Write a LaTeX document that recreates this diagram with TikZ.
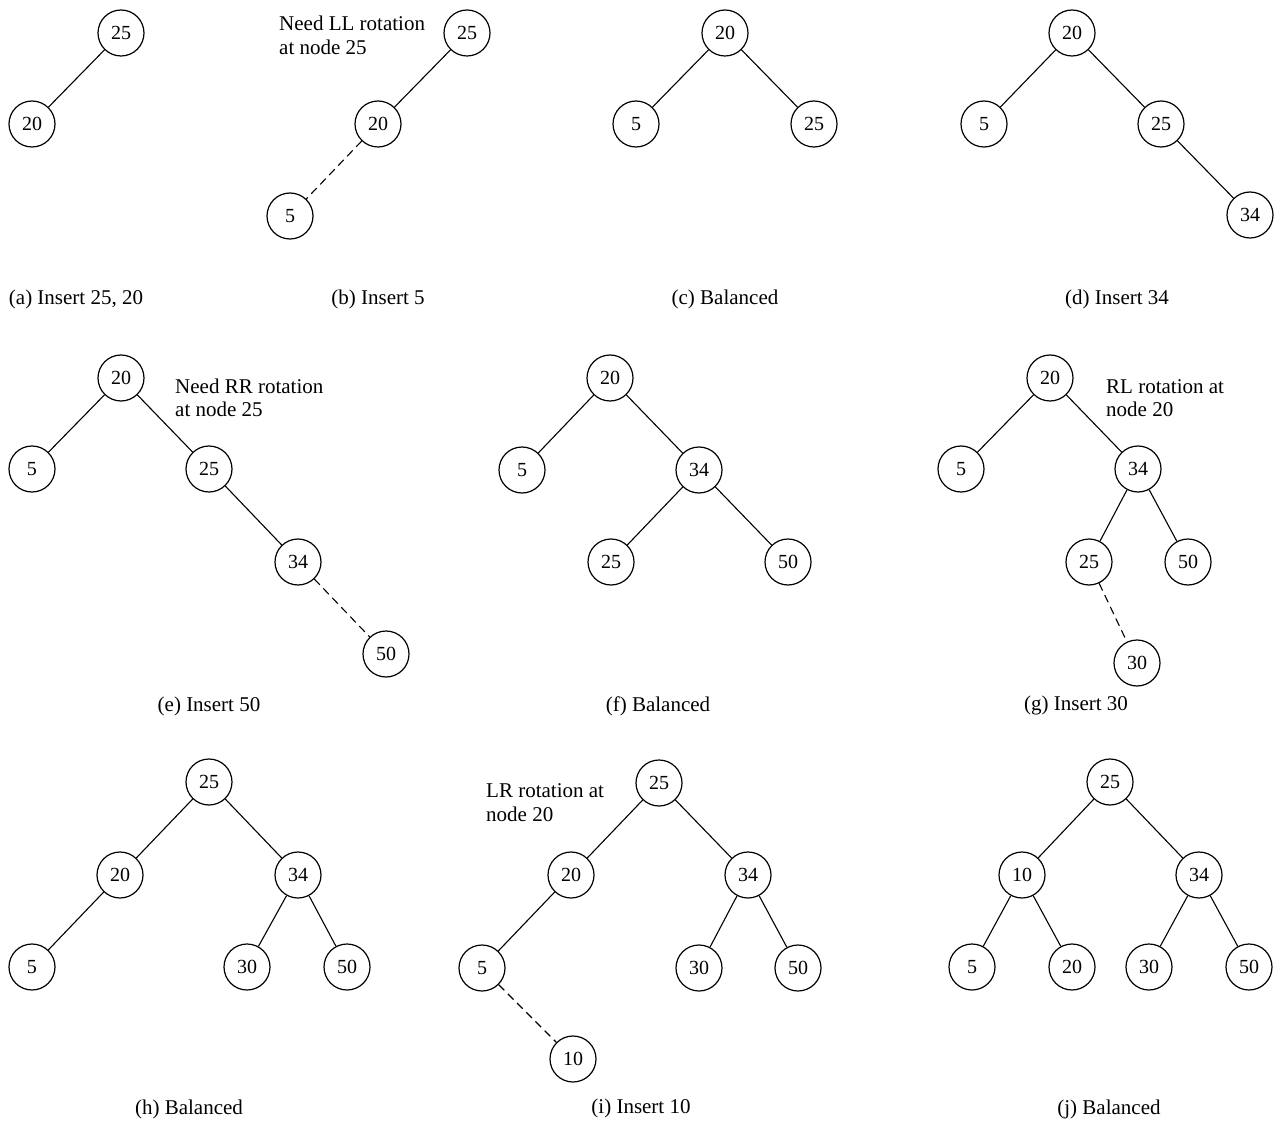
\documentclass[tikz,border=0pt]{standalone}
\usepackage{fontspec}
\setmainfont{Liberation Serif}
\begin{document}
\begin{tikzpicture}[x=1pt,y=-1pt,
  tn/.style={circle,draw,line width=1.2pt,minimum size=46pt,inner sep=0pt,font=\fontsize{20}{24}\selectfont},
  ed/.style={line width=1.1pt},
  dd/.style={line width=1.1pt,dash pattern=on 8pt off 5pt},
  captxt/.style={anchor=base,inner sep=0pt,font=\fontsize{21}{25}\selectfont},
  notetxt/.style={anchor=base west,inner sep=0pt,font=\fontsize{21}{25}\selectfont}]
\useasboundingbox (0,0) rectangle (1275,1123);
% (a)
\node[tn] (a25) at (121,33) {25};
\node[tn] (a20) at (32,124) {20};
\draw[ed] (a25) -- (a20);
\node[captxt] (acap) at (76,305) {(a) Insert 25, 20};
% (b)
\node[tn] (b25) at (467,33) {25};
\node[tn] (b20) at (378,124) {20};
\node[tn] (b5) at (290,216) {5};
\draw[ed] (b25) -- (b20);
\draw[dd] (b20) -- (b5);
\node[notetxt] (bn1) at (279,31) {Need LL rotation};
\node[notetxt] (bn2) at (279,55) {at node 25};
\node[captxt] (bcap) at (378,305) {(b) Insert 5};
% (c)
\node[tn] (c20) at (725,33) {20};
\node[tn] (c5) at (636,124) {5};
\node[tn] (c25) at (814,124) {25};
\draw[ed] (c20) -- (c5);
\draw[ed] (c20) -- (c25);
\node[captxt] (ccap) at (725,305) {(c) Balanced};
% (d)
\node[tn] (d20) at (1072,33) {20};
\node[tn] (d5) at (984,124) {5};
\node[tn] (d25) at (1161,124) {25};
\node[tn] (d34) at (1250,215) {34};
\draw[ed] (d20) -- (d5);
\draw[ed] (d20) -- (d25);
\draw[ed] (d25) -- (d34);
\node[captxt] (dcap) at (1117,305) {(d) Insert 34};
% (e)
\node[tn] (e20) at (121,378) {20};
\node[tn] (e5) at (32,469) {5};
\node[tn] (e25) at (209,469) {25};
\node[tn] (e34) at (298,562) {34};
\node[tn] (e50) at (386,654) {50};
\draw[ed] (e20) -- (e5);
\draw[ed] (e20) -- (e25);
\draw[ed] (e25) -- (e34);
\draw[dd] (e34) -- (e50);
\node[notetxt] (en1) at (175,393) {Need RR rotation};
\node[notetxt] (en2) at (175,417) {at node 25};
\node[captxt] (ecap) at (209,711) {(e) Insert 50};
% (f)
\node[tn] (f20) at (610,378) {20};
\node[tn] (f5) at (522,470) {5};
\node[tn] (f34) at (699,470) {34};
\node[tn] (f25) at (611,562) {25};
\node[tn] (f50) at (788,562) {50};
\draw[ed] (f20) -- (f5);
\draw[ed] (f20) -- (f34);
\draw[ed] (f34) -- (f25);
\draw[ed] (f34) -- (f50);
\node[captxt] (fcap) at (658,711) {(f) Balanced};
% (g)
\node[tn] (g20) at (1050,378) {20};
\node[tn] (g5) at (961,469) {5};
\node[tn] (g34) at (1138,469) {34};
\node[tn] (g25) at (1089,562) {25};
\node[tn] (g50) at (1188,562) {50};
\node[tn] (g30) at (1137,663) {30};
\draw[ed] (g20) -- (g5);
\draw[ed] (g20) -- (g34);
\draw[ed] (g34) -- (g25);
\draw[ed] (g34) -- (g50);
\draw[dd] (g25) -- (g30);
\node[notetxt] (gn1) at (1106,393) {RL rotation at};
\node[notetxt] (gn2) at (1106,417) {node 20};
\node[captxt] (gcap) at (1076,710) {(g) Insert 30};
% (h)
\node[tn] (h25) at (209,782) {25};
\node[tn] (h20) at (120,875) {20};
\node[tn] (h34) at (298,875) {34};
\node[tn] (h5) at (32,967) {5};
\node[tn] (h30) at (247,967) {30};
\node[tn] (h50) at (347,967) {50};
\draw[ed] (h25) -- (h20);
\draw[ed] (h25) -- (h34);
\draw[ed] (h20) -- (h5);
\draw[ed] (h34) -- (h30);
\draw[ed] (h34) -- (h50);
\node[captxt] (hcap) at (189,1114) {(h) Balanced};
% (i)
\node[tn] (i25) at (659,783) {25};
\node[tn] (i20) at (571,875) {20};
\node[tn] (i34) at (748,875) {34};
\node[tn] (i5) at (482,968) {5};
\node[tn] (i30) at (699,968) {30};
\node[tn] (i50) at (798,968) {50};
\node[tn] (i10) at (573,1059) {10};
\draw[ed] (i25) -- (i20);
\draw[ed] (i25) -- (i34);
\draw[ed] (i20) -- (i5);
\draw[ed] (i34) -- (i30);
\draw[ed] (i34) -- (i50);
\draw[dd] (i5) -- (i10);
\node[notetxt] (in1) at (486,797) {LR rotation at};
\node[notetxt] (in2) at (486,821) {node 20};
\node[captxt] (icap) at (641,1113) {(i) Insert 10};
% (j)
\node[tn] (j25) at (1110,782) {25};
\node[tn] (j10) at (1022,875) {10};
\node[tn] (j34) at (1199,875) {34};
\node[tn] (j5) at (972,967) {5};
\node[tn] (j20) at (1072,967) {20};
\node[tn] (j30) at (1149,967) {30};
\node[tn] (j50) at (1249,967) {50};
\draw[ed] (j25) -- (j10);
\draw[ed] (j25) -- (j34);
\draw[ed] (j10) -- (j5);
\draw[ed] (j10) -- (j20);
\draw[ed] (j34) -- (j30);
\draw[ed] (j34) -- (j50);
\node[captxt] (jcap) at (1109,1114) {(j) Balanced};
\end{tikzpicture}
\end{document}
